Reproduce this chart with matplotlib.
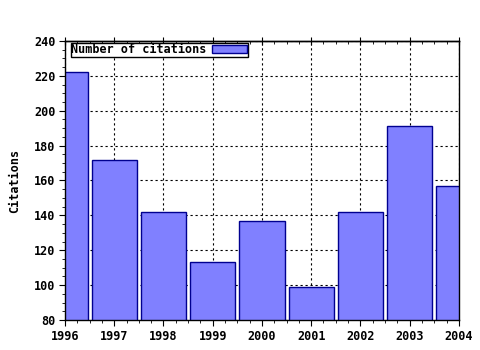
import matplotlib
matplotlib.use("Agg")
import matplotlib.pyplot as plt
from matplotlib.ticker import MultipleLocator

years = [1996, 1997, 1998, 1999, 2000, 2001, 2002, 2003, 2004]
citations = [222, 172, 142, 113, 137, 99, 142, 191, 157]

plt.rcParams['font.family'] = 'DejaVu Sans Mono'
plt.rcParams['font.weight'] = 'bold'
plt.rcParams['font.size'] = 8.5

fig = plt.figure(figsize=(4.8, 3.5), dpi=100)
ax = fig.add_axes([0.1354, 0.0857, 0.8206, 0.7973])

ax.bar(years, citations, width=0.92, bottom=0, color='#8080ff',
       edgecolor='#000090', linewidth=1.0, label='Number of citations', zorder=2)

ax.set_xlim(1996, 2004)
ax.set_ylim(80, 240)
ax.set_xticks(years)
ax.xaxis.set_minor_locator(MultipleLocator(0.25))
ax.yaxis.set_major_locator(MultipleLocator(20))
ax.yaxis.set_minor_locator(MultipleLocator(5))
ax.tick_params(which='major', direction='out', length=4, pad=3)
ax.tick_params(which='minor', direction='out', length=2)
# top axis: ticks but no labels
sec = ax.secondary_xaxis('top')
sec.set_xticks(years)
sec.xaxis.set_minor_locator(MultipleLocator(0.25))
sec.tick_params(which='major', direction='inout', length=6, labeltop=False)
sec.tick_params(which='minor', direction='in', length=2)
sec.spines['top'].set_linewidth(1.0)

ax.grid(True, which='major', linestyle=(0, (2, 2.5)), color='black', linewidth=0.8, zorder=1)
ax.set_axisbelow(True)
for s in ax.spines.values():
    s.set_linewidth(1.0)

ax.set_ylabel('Citations', fontweight='bold', labelpad=9)

leg = ax.legend(loc='upper left', bbox_to_anchor=(0.015, 0.994), frameon=True,
                fancybox=False, framealpha=1, edgecolor='black', borderpad=0.05,
                handlelength=3.0, handleheight=0.6, handletextpad=0.4,
                borderaxespad=0, markerfirst=False)
leg.get_frame().set_linewidth(1.0)

fig.savefig('out.png', dpi=100)
